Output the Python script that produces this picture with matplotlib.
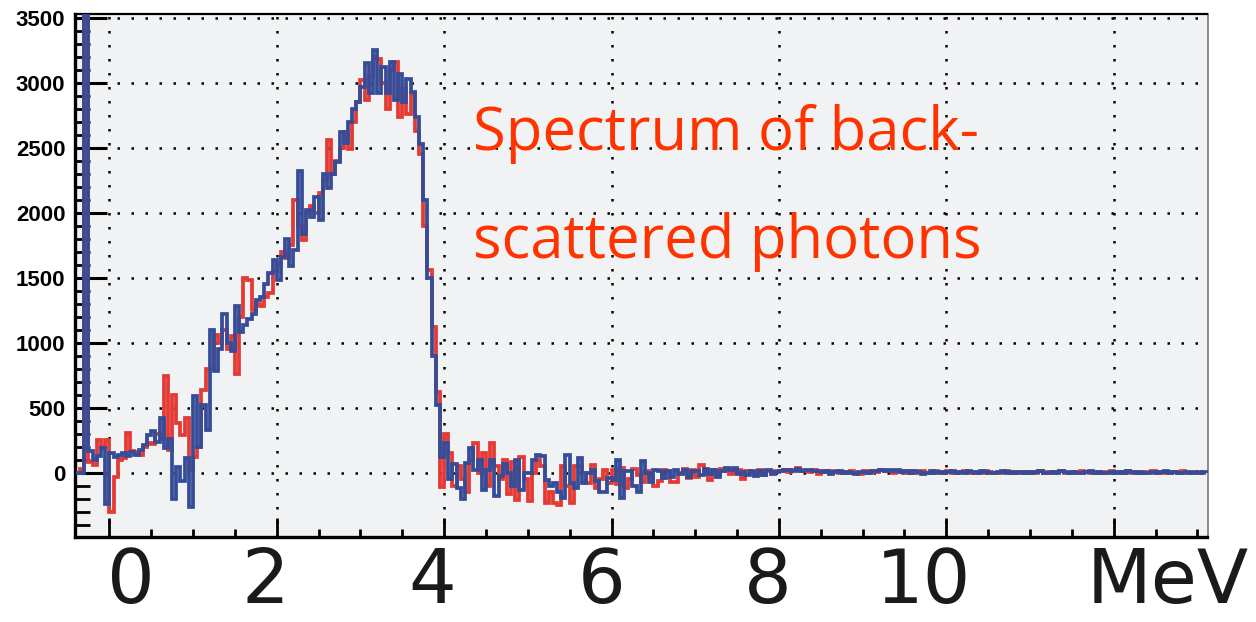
import numpy as np
import matplotlib
matplotlib.use("Agg")
import matplotlib.pyplot as plt
from matplotlib.ticker import MultipleLocator

# ---------------- data ----------------
bin_start = -0.40      # MeV, lower edge of first bin
bin_width = 0.05       # MeV

blue_counts = [
    0, 0, 6000, 170, 100, 130, 190, -240, 150, 120,
    140, 150, 130, 160, 140, 175, 215, 290, 320, 240,
    420, 190, 260, -200, 45, -60, 110, -265, 590, 200,
    520, 330, 1100, 780, 950, 1220, 1000, 940, 1280, 1080,
    1140, 1180, 1225, 1330, 1355, 1450, 1535, 1640, 1480, 1660,
    1800, 1590, 1715, 2320, 1840, 2020, 1970, 2125, 1945, 2300,
    2195, 2300, 2390, 2620, 2540, 2700, 2800, 2850, 2970, 3150,
    2920, 3250, 2920, 3125, 2920, 3160, 2865, 3070, 2850, 3030,
    2930, 2740, 2530, 2100, 1500, 900, 520, 120,
    230, -50, 65, -115, -205, 75, 190, 25, 100, -130,
    25, 100, -180, -25, 65, 0, -100, 100, -130, 0,
    0, 100, 140, 130, -55, -105, -80, -145, -195, 140,
    -80, -120, 113, -80, 0, 25, -60, -145, -145, -40,
    -55, 100, -195, 15, 10, -105, -145, 90, 0, -67,
    23, 10, -40, 15, -30, 20, -10, 25, -30, 10,
    15, -20, 30, -10, 20, -35, 10, 35, 25, 40,
    -10, 5, -20, 15, -25, 10, -15, 20, -10, 5,
    15, 20, 25, 10, 30, 15, 20, 25, 10, 15,
    5, 10, -10, 5, 10, -5, 5, 0, -10, 5,
    5, -5, 10, 15, 20, 15, 25, 10, 20, 5,
    15, -5, 10, 5, -10, 0, 10, -5, 5, 0,
    5, 10, 0, 5, -5, 10, 5, 0, 10, 5,
    -5, 0, 5, 10, 0, 5, -5, 5, 0, 5,
    0, 5, 10, 0, -5, 5, 0, 10, 5, 0,
    5, -5, 0, 5, 10, 0, 5, 0, -5, 5,
    0, 5, 0, 10, 5, 0, 5, -5, 0, 5,
    0, 5, 10, 0, 5, 0, -5, 5, 0, 5,
    0, 5,
]

red_counts = [
    0, 30, 6000, 80, 60, 250, 200, 250, -300, -30,
    100, 110, 305, 170, 160, 140, 200, 230, 220, 300,
    260, 745, 175, 600, 380, 290, 420, 20, 125, 200,
    640, 795, 800, 1060, 1000, 1100, 950, 1050, 760, 1200,
    1500, 1480, 1250, 1300, 1280, 1350, 1380, 1550, 1610, 1700,
    1650, 1750, 2100, 1900, 1790, 2000, 2050, 2000, 2150, 2250,
    2560, 2300, 2400, 2500, 2620, 2490, 2700, 2850, 3020, 2865,
    3050, 3200, 3180, 3000, 2800, 3100, 3160, 2740, 2950, 2760,
    2920, 2630, 2450, 1900, 1560, 1120, 620, -108,
    300, 150, -100, 50, -50, -150, 100, 230, 0, 150,
    -100, 230, 50, -50, 100, -160, 80, -210, 120, -50,
    -220, 0, 100, 50, -235, -150, -230, -245, 50, -100,
    -235, 50, 50, 0, -80, 60, -120, -50, 25, -80,
    25, -90, 40, -120, -50, 30, -20, -67, 10, -30,
    -100, -60, 20, 10, -70, -67, 0, 30, -40, 20,
    -30, 60, 10, -55, 20, -20, 30, 15, -10, 5,
    20, -50, 10, 5, -15, 20, -20, 10, 0, 15,
    10, 25, 5, 20, 35, 10, 15, 5, 20, -10,
    5, 15, -5, 10, 0, 5, -5, 10, 0, -10,
    10, 0, 15, 5, 20, 10, 15, -5, 5, 10,
    0, 15, -5, 5, 10, 0, -5, 10, 5, 0,
    10, 0, -5, 5, 10, 0, 5, -5, 0, 10,
    5, 0, -5, 5, 10, 0, 5, 0, 5, -5,
    5, 0, 10, -5, 5, 0, 5, 10, 0, -5,
    5, 0, 10, 5, 0, -5, 5, 0, 5, 10,
    0, 5, -5, 10, 0, 5, 0, -5, 5, 10,
    0, 5, 0, -5, 5, 0, 10, 5, 0, -5,
    5, 0,
]

x_labels = ["0", "2", "4", "6", "8", "10", "MeV"]
x_label_pos = [0.26, 1.86, 3.86, 5.88, 7.87, 9.73, 12.64]   # MeV (label centres)
y_ticks = [0, 500, 1000, 1500, 2000, 2500, 3000, 3500]
annotation = ["Spectrum of back-", "scattered photons"]

# ---------------- figure ----------------
W, H = 1256, 622
fig = plt.figure(figsize=(W / 100, H / 100), dpi=100)
fig.patch.set_facecolor("white")

ax = fig.add_axes([75 / W, (H - 537) / H, (1207.5 - 75) / W, (537 - 14) / H])
ax.set_facecolor("#F1F2F4")

n = len(blue_counts)
edges = bin_start + bin_width * np.arange(n + 1)

red_col = "#E43A33"
blue_col = "#354C98"
ax.stairs(red_counts, edges, color=red_col, lw=2.7, zorder=3)
ax.stairs(blue_counts, edges, color=blue_col, lw=2.7, zorder=4)

ax.set_xlim(-0.41, 13.12)
ax.set_ylim(-494, 3530)

# grid
ax.xaxis.set_major_locator(MultipleLocator(2))
ax.xaxis.set_minor_locator(MultipleLocator(0.5))
ax.set_yticks(y_ticks)
ax.yaxis.set_minor_locator(MultipleLocator(100))
ax.grid(True, which="major", color="black", linestyle=(0, (1, 4.6)),
        linewidth=1.8, dash_capstyle="butt", zorder=1)

# ticks
ax.tick_params(axis="y", which="major", direction="in", length=23, width=2.2,
               labelsize=16, pad=7, right=False)
ax.tick_params(axis="y", which="minor", direction="in", length=11, width=2.0,
               right=False)
ax.tick_params(axis="x", which="major", direction="in", length=14, width=2.0,
               labelbottom=False, top=False)
ax.tick_params(axis="x", which="minor", direction="in", length=6, width=2.0,
               top=False)
for lab in ax.get_yticklabels():
    lab.set_fontfamily("Liberation Sans")
    lab.set_fontweight("bold")

for side in ["left", "bottom"]:
    ax.spines[side].set_linewidth(2.4)
    ax.spines[side].set_color("black")
ax.spines["top"].set_linewidth(1.6)
ax.spines["top"].set_color("black")
ax.spines["right"].set_linewidth(1.2)
ax.spines["right"].set_color("#777777")

# big hand-written style x labels
trans = matplotlib.transforms.blended_transform_factory(ax.transData, fig.transFigure)
for lab, pos in zip(x_labels, x_label_pos):
    fig.text(pos, 3 / H, lab, transform=trans, ha="center", va="bottom",
             fontsize=54, color="#1a1a1a", family="DejaVu Sans")

# annotation text
fig.text(473 / W, (H - 150) / H, annotation[0], ha="left", va="baseline",
         fontsize=43, color="#FF3300", family="Open Sans")
fig.text(473 / W, (H - 258) / H, annotation[1], ha="left", va="baseline",
         fontsize=43, color="#FF3300", family="Open Sans")

fig.savefig("out.png", dpi=100, facecolor="white")
